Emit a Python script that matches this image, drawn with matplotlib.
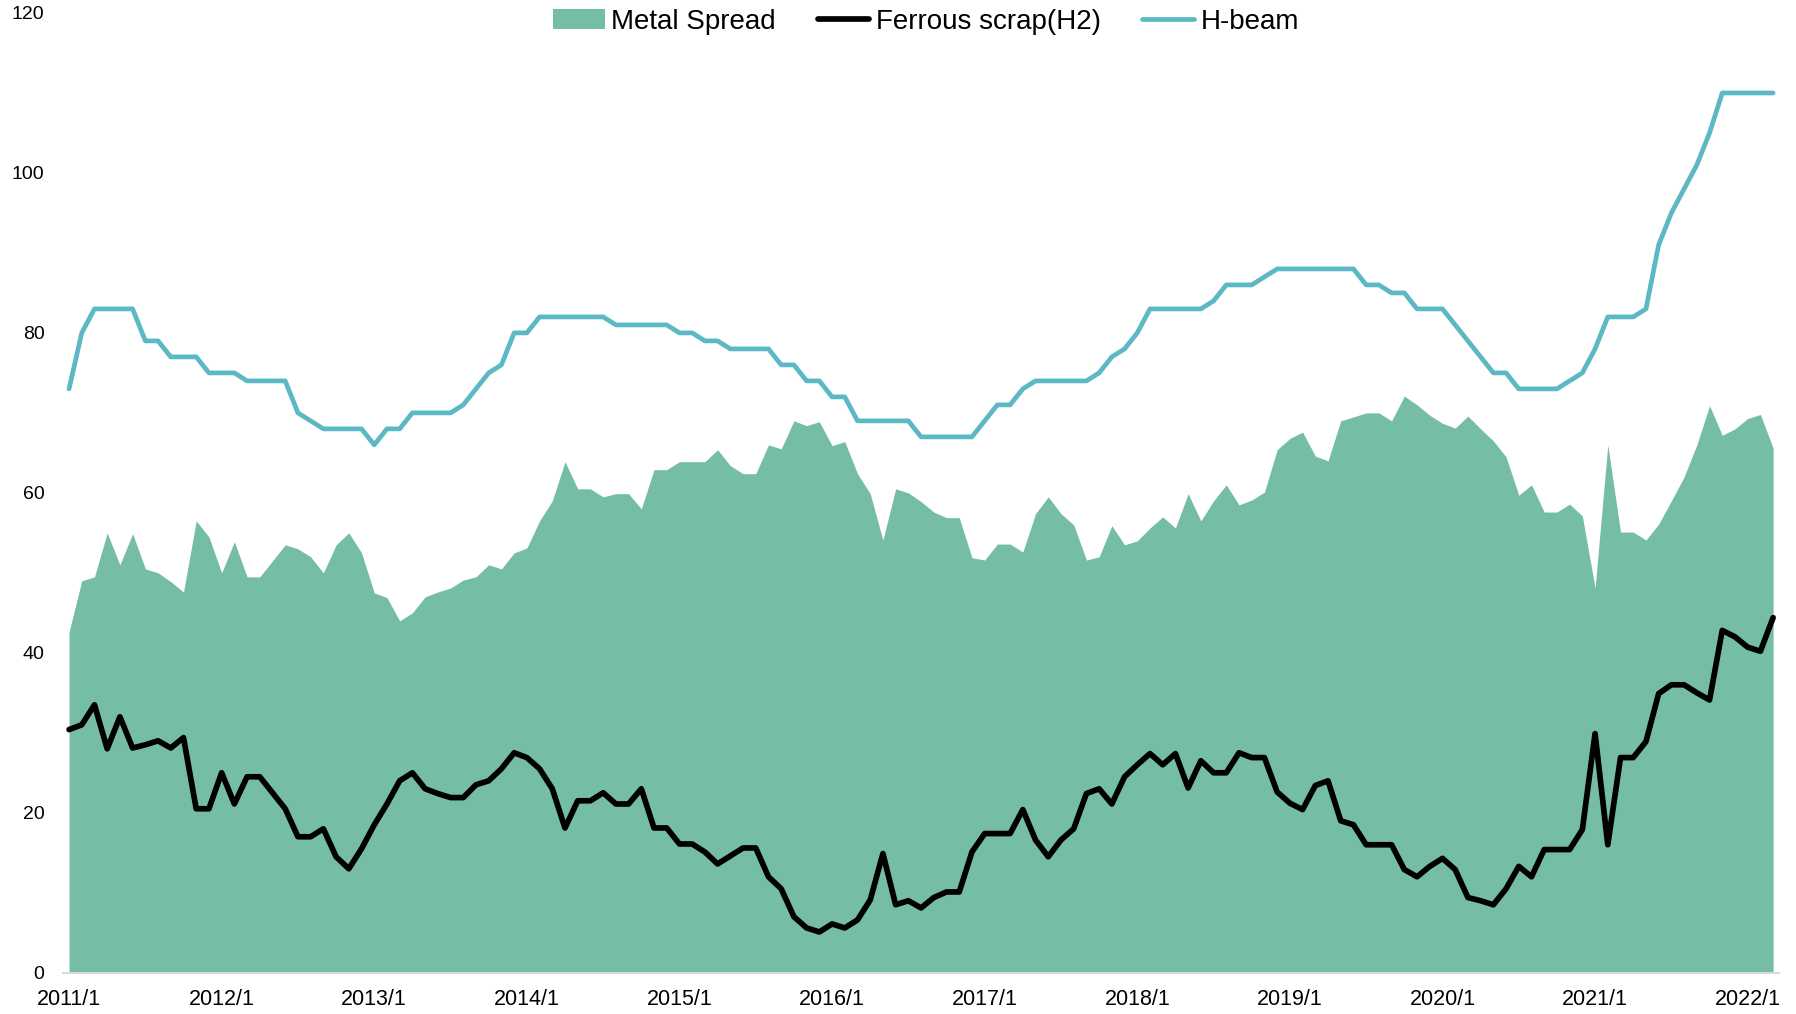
import numpy as np
import matplotlib
matplotlib.use("Agg")
import matplotlib.pyplot as plt

plt.rcParams['font.family'] = ['Liberation Sans', 'DejaVu Sans']

# monthly series, 2011/1 .. 2022/3
hbeam = [73, 80, 83, 83, 83, 83, 79, 79, 77, 77, 77, 75,
         75, 75, 74, 74, 74, 74, 70, 69, 68, 68, 68, 68,
         66, 68, 68, 70, 70, 70, 70, 71, 73, 75, 76, 80,
         80, 82, 82, 82, 82, 82, 82, 81, 81, 81, 81, 81,
         80, 80, 79, 79, 78, 78, 78, 78, 76, 76, 74, 74,
         72, 72, 69, 69, 69, 69, 69, 67, 67, 67, 67, 67,
         69, 71, 71, 73, 74, 74, 74, 74, 74, 75, 77, 78,
         80, 83, 83, 83, 83, 83, 84, 86, 86, 86, 87, 88,
         88, 88, 88, 88, 88, 88, 86, 86, 85, 85, 83, 83,
         83, 81, 79, 77, 75, 75, 73, 73, 73, 73, 74, 75,
         78, 82, 82, 82, 83, 91, 95, 98, 101, 105, 110, 110, 110, 110, 110]

ferrous = [30.4, 31.0, 33.5, 28.0, 32.0, 28.1, 28.5, 29.0, 28.1, 29.4, 20.5, 20.5,
           25.0, 21.1, 24.5, 24.5, 22.5, 20.5, 17.0, 17.0, 18.0, 14.5, 13.0, 15.5,
           18.5, 21.1, 24.0, 25.0, 23.0, 22.4, 21.9, 21.9, 23.5, 24.0, 25.5, 27.5,
           26.9, 25.5, 23.0, 18.1, 21.5, 21.5, 22.5, 21.1, 21.1, 23.0, 18.1, 18.1,
           16.1, 16.1, 15.1, 13.6, 14.6, 15.6, 15.6, 12.0, 10.5, 7.0, 5.6, 5.1,
           6.1, 5.6, 6.6, 9.1, 14.9, 8.5, 9.0, 8.1, 9.4, 10.1, 10.1, 15.1,
           17.4, 17.4, 17.4, 20.4, 16.6, 14.5, 16.6, 18.0, 22.4, 23.0, 21.1, 24.5,
           26.0, 27.4, 26.0, 27.4, 23.1, 26.5, 25.0, 25.0, 27.5, 26.9, 26.9, 22.6,
           21.2, 20.4, 23.4, 24.0, 19.0, 18.5, 16.0, 16.0, 16.0, 12.9, 12.0, 13.3,
           14.3, 12.9, 9.4, 9.0, 8.5, 10.5, 13.3, 12.0, 15.4, 15.4, 15.4, 17.9,
           29.9, 16.0, 26.9, 26.9, 28.9, 34.9, 36.0, 36.0, 35.0, 34.1, 42.8, 42.0, 40.7, 40.2, 44.4]

spread = [42.6, 49.0, 49.5, 55.0, 51.0, 54.9, 50.5, 50.0, 48.9, 47.6, 56.5, 54.5,
          50.0, 53.9, 49.5, 49.5, 51.5, 53.5, 53.0, 52.0, 50.0, 53.5, 55.0, 52.5,
          47.5, 46.9, 44.0, 45.0, 47.0, 47.6, 48.1, 49.1, 49.5, 51.0, 50.5, 52.5,
          53.1, 56.5, 59.0, 63.9, 60.5, 60.5, 59.5, 59.9, 59.9, 58.0, 62.9, 62.9,
          63.9, 63.9, 63.9, 65.4, 63.4, 62.4, 62.4, 66.0, 65.5, 69.0, 68.4, 68.9,
          65.9, 66.4, 62.4, 59.9, 54.1, 60.5, 60.0, 58.9, 57.6, 56.9, 56.9, 51.9,
          51.6, 53.6, 53.6, 52.6, 57.4, 59.5, 57.4, 56.0, 51.6, 52.0, 55.9, 53.5,
          54.0, 55.6, 57.0, 55.6, 59.9, 56.5, 59.0, 61.0, 58.5, 59.1, 60.1, 65.4,
          66.8, 67.6, 64.6, 64.0, 69.0, 69.5, 70.0, 70.0, 69.0, 72.1, 71.0, 69.7,
          68.7, 68.1, 69.6, 68.0, 66.5, 64.5, 59.7, 61.0, 57.6, 57.6, 58.6, 57.1,
          48.1, 66.0, 55.1, 55.1, 54.1, 56.1, 59.0, 62.0, 66.0, 70.9, 67.2, 68.0, 69.3, 69.8, 65.6]

year_labels = ['2011/1', '2012/1', '2013/1', '2014/1', '2015/1', '2016/1',
               '2017/1', '2018/1', '2019/1', '2020/1', '2021/1', '2022/1']

x = np.arange(len(hbeam))

fig = plt.figure(figsize=(17.96, 10.14), dpi=100)
ax = fig.add_axes([0.0349, 0.0407, 0.9559, 0.9465])

ax.fill_between(x, 0, spread, color='#75BDA7', linewidth=0, label='Metal Spread')
ax.plot(x, ferrous, color='black', lw=4.1, solid_capstyle='round',
        solid_joinstyle='round', label='Ferrous scrap(H2)')
ax.plot(x, hbeam, color='#5BB8C4', lw=3.4, solid_capstyle='round',
        solid_joinstyle='round', label='H-beam')

ax.set_xlim(-0.5, len(hbeam) - 0.5)
ax.set_ylim(0, 120)
ax.set_yticks(range(0, 121, 20))
ax.set_xticks(np.arange(len(year_labels)) * 12)
ax.set_xticklabels(year_labels)

for s in ['top', 'right', 'left']:
    ax.spines[s].set_visible(False)
ax.spines['bottom'].set_color('#D9D9D9')
ax.spines['bottom'].set_linewidth(1.5)
ax.tick_params(axis='y', length=0, pad=13, labelsize=14)
ax.tick_params(axis='x', length=0, pad=12, labelsize=15.5)

handles, labels = ax.get_legend_handles_labels()
lab_map = dict(zip(labels, handles))
names = ['Metal Spread', 'Ferrous scrap(H2)', 'H-beam']
fig.legend([lab_map[n] for n in names], names, loc='center',
           bbox_to_anchor=(0.5156, 0.9785), ncol=3, frameon=False, fontsize=20,
           handlelength=1.85, handletextpad=0.24, columnspacing=1.5,
           borderaxespad=0, borderpad=0)

fig.savefig('out.png', dpi=100)
